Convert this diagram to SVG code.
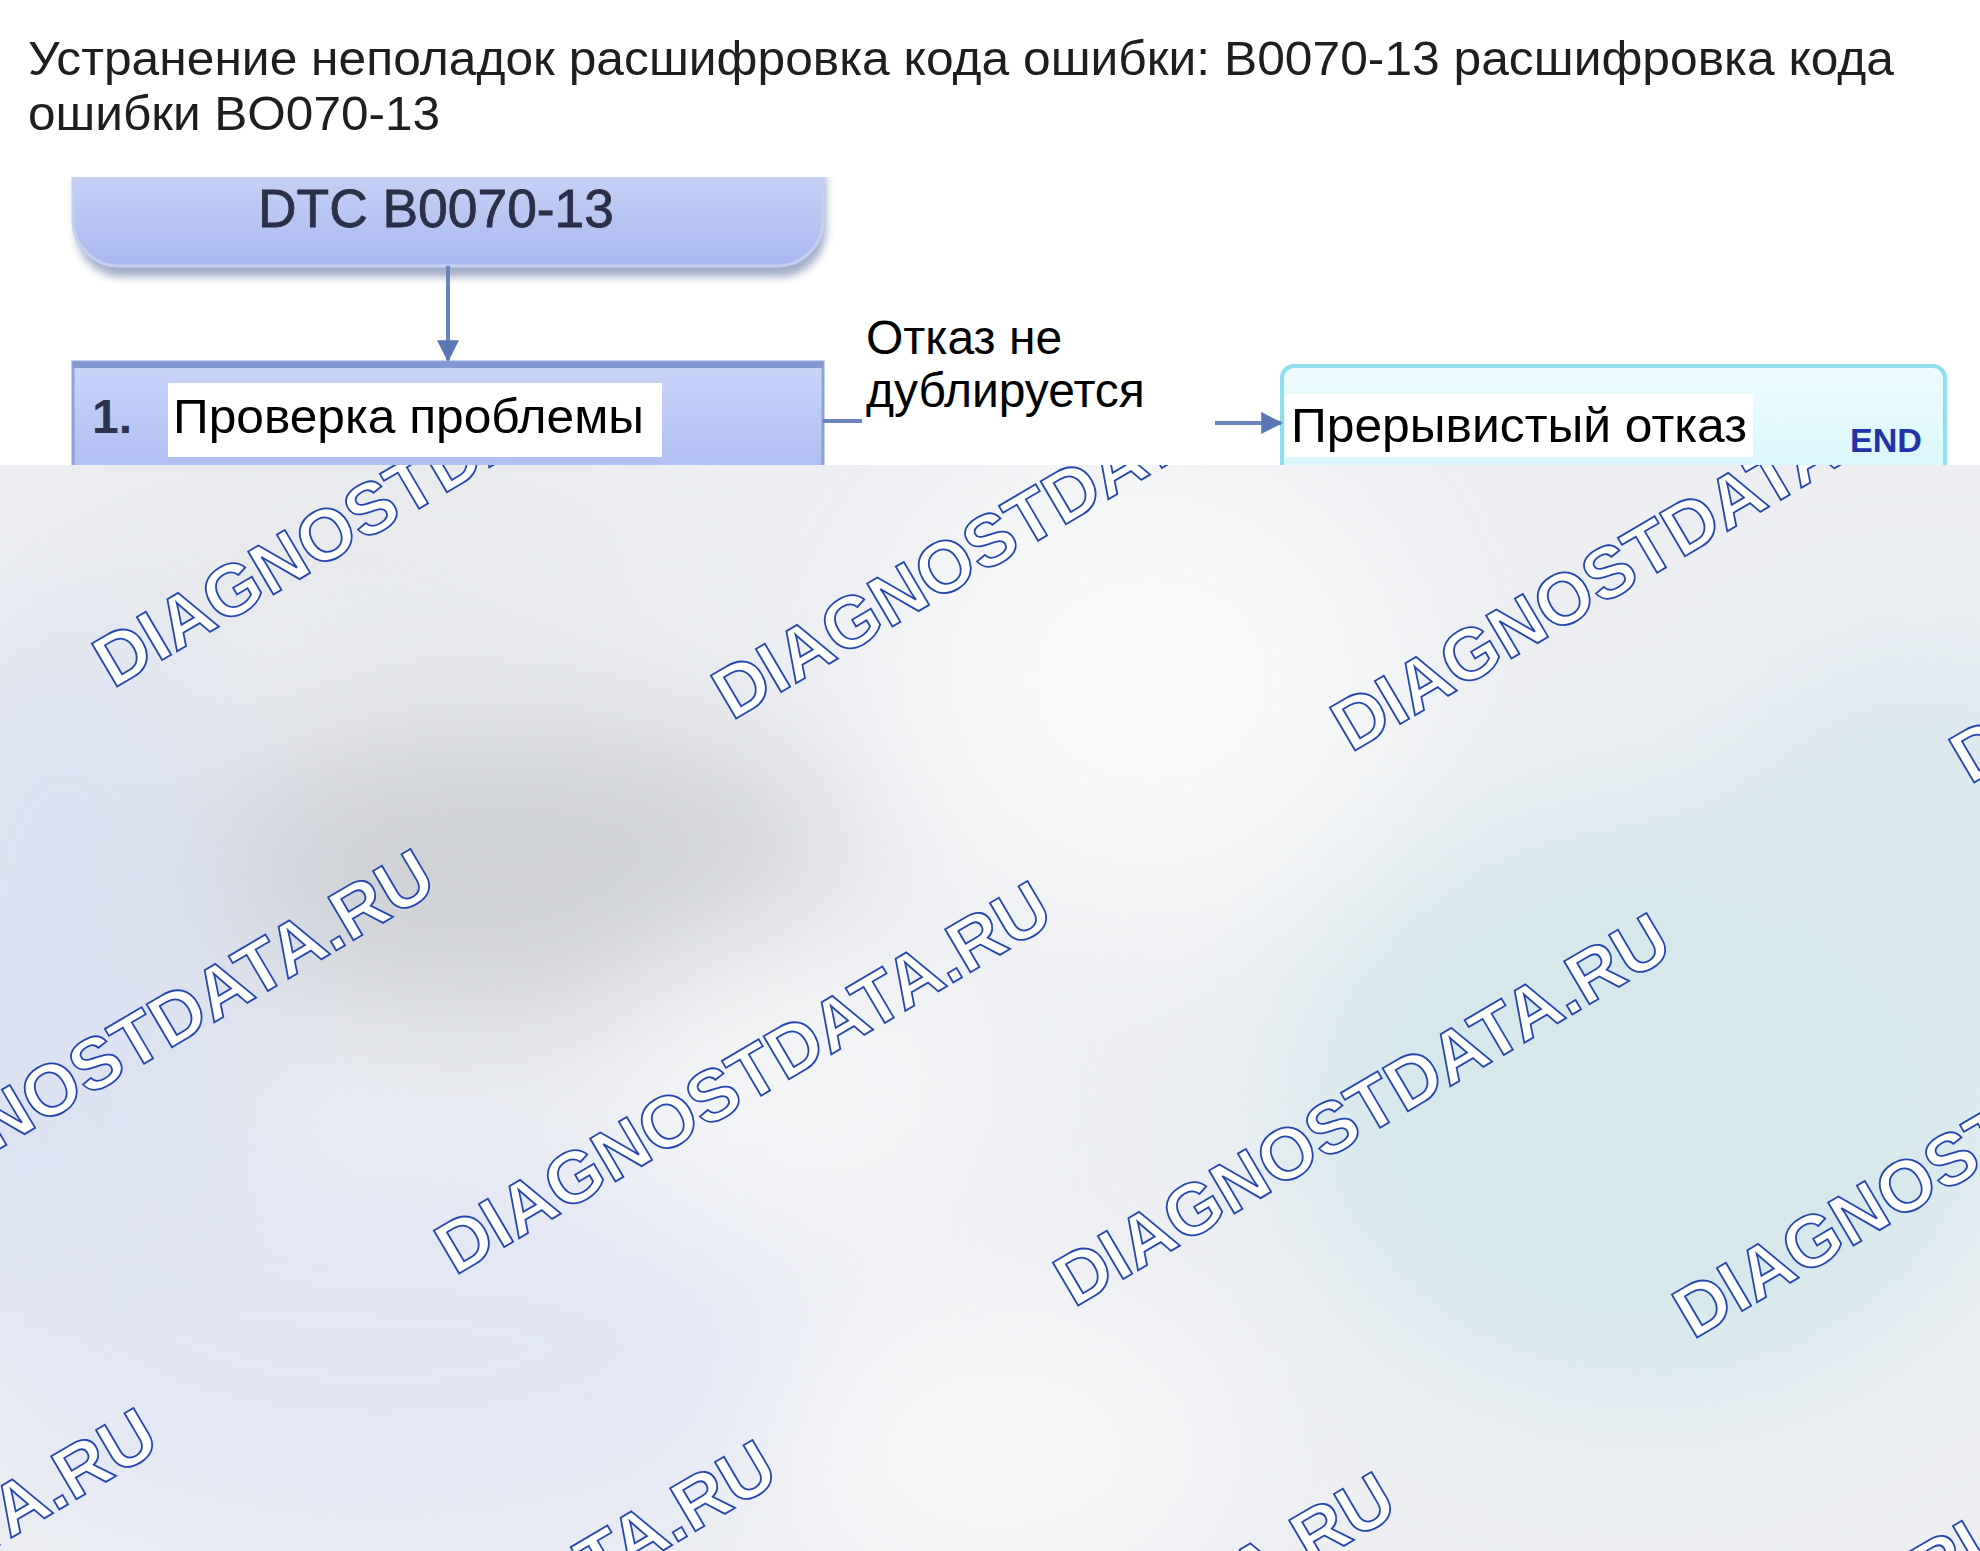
<svg xmlns="http://www.w3.org/2000/svg" width="1980" height="1551" viewBox="0 0 1980 1551">
<defs>
<style>
.ttl{font-family:"Liberation Sans",Arial,sans-serif;font-size:49px;fill:#1e1e1e}
.lbl{font-family:"Liberation Sans",Arial,sans-serif;font-size:48px;fill:#000}
.wm{font-family:"Liberation Sans",Arial,sans-serif;font-weight:bold;font-size:72.5px;fill:#fff;stroke:#2547ad;stroke-width:1.8px}
.conn{stroke:#6a84bb;stroke-width:4;fill:none}
</style>
<filter id="blur" x="-50%" y="-50%" width="200%" height="200%"><feGaussianBlur stdDeviation="70"/></filter>
<filter id="sh" x="-10%" y="-30%" width="120%" height="160%"><feGaussianBlur stdDeviation="4"/></filter>
<linearGradient id="pillg" x1="0" y1="0" x2="0" y2="1">
<stop offset="0" stop-color="#d3dcfa"/><stop offset="1" stop-color="#a9b9ee"/>
</linearGradient>
<linearGradient id="boxg" x1="0" y1="0" x2="0" y2="1">
<stop offset="0" stop-color="#c9d4f8"/><stop offset="1" stop-color="#a7b8ef"/>
</linearGradient>
<linearGradient id="endg" x1="0" y1="0" x2="0" y2="1">
<stop offset="0" stop-color="#eefcfe"/><stop offset="1" stop-color="#d2f4fa"/>
</linearGradient>
<clipPath id="topclip"><rect x="0" y="177" width="1980" height="288"/></clipPath>
<marker id="ah" viewBox="0 0 10 10" refX="9" refY="5" markerWidth="5.5" markerHeight="5.5" orient="auto" markerUnits="strokeWidth">
<path d="M0,0 L10,5 L0,10 z" fill="#5b77b3"/>
</marker>
</defs>

<!-- lower background -->
<rect x="0" y="465" width="1980" height="1086" fill="#eceef2"/>
<g filter="url(#blur)">
<ellipse cx="505" cy="870" rx="340" ry="150" fill="#cfd1d6"/>
<ellipse cx="60" cy="1000" rx="200" ry="380" fill="#dce2f1"/>
<ellipse cx="380" cy="1350" rx="420" ry="200" fill="#e3e7f5"/>
<ellipse cx="1650" cy="1100" rx="360" ry="300" fill="#d6e8ec"/>
<ellipse cx="1920" cy="820" rx="200" ry="160" fill="#d9e8ee"/>
<ellipse cx="1150" cy="680" rx="260" ry="240" fill="#f7f8f8"/>
<ellipse cx="1000" cy="1450" rx="220" ry="150" fill="#f6f7f8"/>
<ellipse cx="350" cy="560" rx="320" ry="80" fill="#e6e8eb"/>
<ellipse cx="800" cy="1080" rx="200" ry="160" fill="#f3f4f6"/>
</g>

<!-- watermarks -->
<g>
<text class="wm" x="113" y="689" transform="rotate(-30.5 113 689)">DIAGNOSTDATA.RU</text>
<text class="wm" x="732" y="721" transform="rotate(-30.5 732 721)">DIAGNOSTDATA.RU</text>
<text class="wm" x="1351" y="753" transform="rotate(-30.5 1351 753)">DIAGNOSTDATA.RU</text>
<text class="wm" x="1970" y="785" transform="rotate(-30.5 1970 785)">DIAGNOSTDATA.RU</text>
<text class="wm" x="-162" y="1244" transform="rotate(-30.5 -162 1244)">DIAGNOSTDATA.RU</text>
<text class="wm" x="455" y="1276" transform="rotate(-30.5 455 1276)">DIAGNOSTDATA.RU</text>
<text class="wm" x="1074" y="1308" transform="rotate(-30.5 1074 1308)">DIAGNOSTDATA.RU</text>
<text class="wm" x="1693" y="1340" transform="rotate(-30.5 1693 1340)">DIAGNOSTDATA.RU</text>
<text class="wm" x="-439" y="1803" transform="rotate(-30.5 -439 1803)">DIAGNOSTDATA.RU</text>
<text class="wm" x="180" y="1835" transform="rotate(-30.5 180 1835)">DIAGNOSTDATA.RU</text>
<text class="wm" x="799" y="1867" transform="rotate(-30.5 799 1867)">DIAGNOSTDATA.RU</text>
<text class="wm" x="1418" y="1899" transform="rotate(-30.5 1418 1899)">DIAGNOSTDATA.RU</text>
</g>

<!-- top white panel -->
<rect x="0" y="0" width="1980" height="465" fill="#ffffff"/>
<text class="ttl" x="28" y="75" textLength="1866" lengthAdjust="spacingAndGlyphs">Устранение неполадок расшифровка кода ошибки: B0070-13 расшифровка кода</text>
<text class="ttl" x="28" y="130" textLength="412" lengthAdjust="spacingAndGlyphs">ошибки BO070-13</text>

<g clip-path="url(#topclip)">
<g id="node-dtc">
<rect x="76" y="142" width="750" height="135" rx="46" fill="#7383ad" opacity="0.65" filter="url(#sh)"/>
<rect x="73" y="130" width="750" height="136" rx="46" fill="url(#pillg)" stroke="#c4cff4" stroke-width="3"/>
<text x="436" y="227" text-anchor="middle" font-family="Liberation Sans, Arial, sans-serif" font-size="53" fill="#2b3048" stroke="#2b3048" stroke-width="0.8" textLength="356" lengthAdjust="spacingAndGlyphs">DTC B0070-13</text>
</g>

<g id="node-step1">
<rect x="73" y="362" width="750" height="140" fill="url(#boxg)" stroke="#8ea2d8" stroke-width="3"/>
<rect x="73" y="362" width="750" height="6" fill="#8296cf"/>
<rect x="168" y="383" width="494" height="74" fill="#ffffff"/>
<text x="92" y="433" font-family="Liberation Sans, Arial, sans-serif" font-size="48" font-weight="bold" fill="#2c3350">1.</text>
<text class="lbl" x="173" y="433" textLength="471" lengthAdjust="spacingAndGlyphs">Проверка проблемы</text>
</g>

<g id="node-end">
<rect x="1282" y="366" width="663" height="140" rx="12" fill="url(#endg)" stroke="#8fdeee" stroke-width="4"/>
<rect x="1285" y="394" width="468" height="63" fill="#ffffff"/>
<text class="lbl" x="1291" y="442" textLength="456" lengthAdjust="spacingAndGlyphs">Прерывистый отказ</text>
<text x="1850" y="452" font-family="Liberation Sans, Arial, sans-serif" font-size="34" font-weight="bold" fill="#2233a8" textLength="72" lengthAdjust="spacingAndGlyphs">END</text>
</g>

<g id="connectors">
<line class="conn" x1="448" y1="266" x2="448" y2="360" stroke="#5b77b3" marker-end="url(#ah)"/>
<line class="conn" x1="823" y1="421" x2="862" y2="421" stroke-width="5"/>
<line class="conn" x1="1215" y1="423" x2="1281" y2="423" stroke-width="5" marker-end="url(#ah)"/>
</g>
</g>

<g id="edge-label">
<text class="lbl" x="866" y="354">Отказ не</text>
<text class="lbl" x="866" y="407">дублируется</text>
</g>
</svg>
